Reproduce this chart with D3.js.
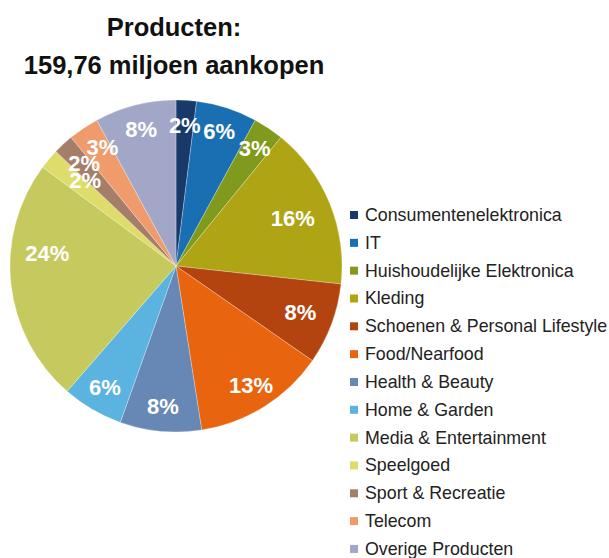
<!DOCTYPE html>
<html>
<head>
<meta charset="utf-8">
<script src="https://cdn.jsdelivr.net/npm/d3@7"></script>
<style>
  html, body { margin: 0; padding: 0; background: #fff; }
  svg { display: block; }
</style>
</head>
<body>
<svg id="chart" width="609" height="558"></svg>
<script>
// Aandeel per productcategorie (in %)
const categories = [
  "Consumentenelektronica", "IT", "Huishoudelijke Elektronica", "Kleding",
  "Schoenen & Personal Lifestyle", "Food/Nearfood", "Health & Beauty",
  "Home & Garden", "Media & Entertainment", "Speelgoed",
  "Sport & Recreatie", "Telecom", "Overige Producten"
];
const shares = [2, 6, 3, 16, 8, 13, 8, 6, 24, 2, 2, 3, 8];
const colors = [
  "#173a6b", "#1a6fb3", "#7f9a1c", "#aea414", "#b4440f", "#e9640f",
  "#6787b4", "#5bb3df", "#c6ca5e", "#dedc6a", "#a57e6a", "#ef9b6b", "#a3a7c7"
];
const titleLines = ["Producten:", "159,76 miljoen aankopen"];

const svg = d3.select("#chart");
const cx = 176, cy = 266, R = 166;
const font = "Arial, 'Liberation Sans', sans-serif";

// Titel
svg.append("g").selectAll("text")
  .data(titleLines)
  .join("text")
  .attr("x", 174)
  .attr("y", (d, i) => 36 + i * 38)
  .attr("text-anchor", "middle")
  .attr("font-family", font)
  .attr("font-weight", "bold")
  .attr("font-size", 25.5)
  .attr("fill", "#111")
  .text(d => d);

const data = categories.map((c, i) => ({ name: c, value: shares[i], color: colors[i] }));

const pie = d3.pie().value(d => d.value).sort(null);
const arcs = pie(data);
const arc = d3.arc().innerRadius(0).outerRadius(R);

const g = svg.append("g").attr("transform", `translate(${cx},${cy})`);

g.selectAll("path")
  .data(arcs)
  .join("path")
  .attr("d", arc)
  .attr("fill", d => d.data.color)
  .attr("stroke", "rgba(255,255,255,0.45)")
  .attr("stroke-width", 0.6);

// Labelplaatsing: standaard op 85% van de straal, enkele uitzonderingen
const labelTweaks = {
  "Kleding": { r: 0.76, da: 0 },
  "Schoenen & Personal Lifestyle": { r: 0.80, da: 0 },
  "Media & Entertainment": { r: 0.78, da: 12 },
  "Speelgoed": { r: 0.75, da: 3 },
  "Sport & Recreatie": { r: 0.83, da: 1 },
  "Telecom": { r: 0.84, da: 2 }
};

g.selectAll("text.lbl")
  .data(arcs)
  .join("text")
  .attr("class", "lbl")
  .each(function (d) {
    const t = labelTweaks[d.data.name] || { r: 0.85, da: 0 };
    const a = (d.startAngle + d.endAngle) / 2 + t.da * Math.PI / 180;
    const rr = R * t.r;
    d3.select(this)
      .attr("x", Math.sin(a) * rr)
      .attr("y", -Math.cos(a) * rr);
  })
  .attr("text-anchor", "middle")
  .attr("dominant-baseline", "central")
  .attr("font-family", font)
  .attr("font-weight", "bold")
  .attr("font-size", 22)
  .attr("fill", "#fff")
  .text(d => d.data.value + "%");

// Legenda
const legend = svg.append("g").attr("transform", "translate(350,215)");
const rows = legend.selectAll("g")
  .data(data)
  .join("g")
  .attr("transform", (d, i) => `translate(0,${i * 27.83})`);

rows.append("rect")
  .attr("x", 0).attr("y", -4)
  .attr("width", 8).attr("height", 8)
  .attr("fill", d => d.color);

rows.append("text")
  .attr("x", 15)
  .attr("y", 0)
  .attr("dominant-baseline", "central")
  .attr("font-family", font)
  .attr("font-size", 17.8)
  .attr("fill", "#222")
  .text(d => d.name);
</script>
</body>
</html>
